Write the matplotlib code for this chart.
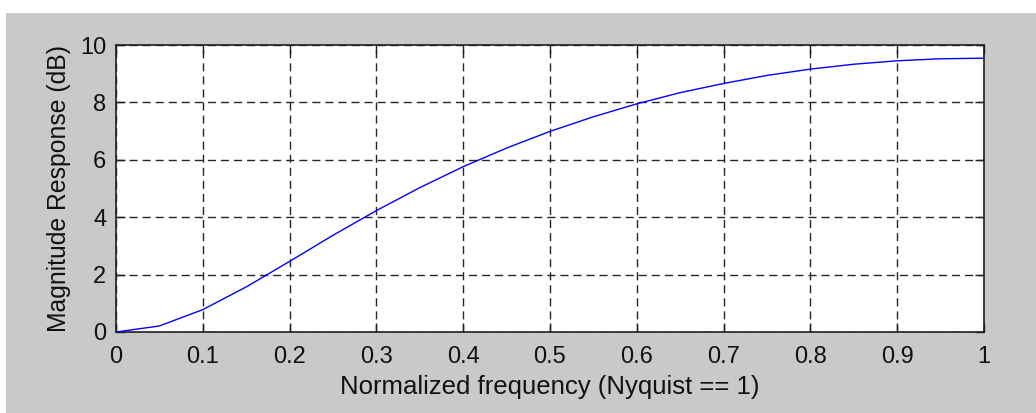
import matplotlib
matplotlib.use("Agg")
import matplotlib.pyplot as plt
from matplotlib.patches import Rectangle

# Data
freq = [0.0, 0.05, 0.1, 0.15, 0.2, 0.25, 0.3, 0.35, 0.4, 0.45, 0.5,
        0.55, 0.6, 0.65, 0.7, 0.75, 0.8, 0.85, 0.9, 0.95, 1.0]
mag_db = [0.0, 0.21, 0.78, 1.57, 2.46, 3.37, 4.23, 5.03, 5.76, 6.41, 6.99,
          7.50, 7.95, 8.34, 8.66, 8.94, 9.16, 9.33, 9.45, 9.52, 9.54]
xticks = [0, 0.1, 0.2, 0.3, 0.4, 0.5, 0.6, 0.7, 0.8, 0.9, 1]
xticklabels = ["0", "0.1", "0.2", "0.3", "0.4", "0.5", "0.6", "0.7", "0.8", "0.9", "1"]
yticks = [0, 2, 4, 6, 8, 10]
yticklabels = ["0", "2", "4", "6", "8", "10"]

plt.rcParams['font.family'] = ['Liberation Sans', 'DejaVu Sans']
plt.rcParams['lines.scale_dashes'] = False

W, H = 1036, 413
fig = plt.figure(figsize=(W / 100, H / 100), dpi=100, facecolor='white')
fig.patches.append(Rectangle((6 / W, 0), 1 - 6 / W, 1 - 13 / H,
                             transform=fig.transFigure, facecolor='#c9c9c9',
                             edgecolor='none', zorder=-10))

ax = fig.add_axes([116 / W, (H - 332) / H, (984 - 116) / W, (332 - 45) / H])
ax.set_facecolor('white')
ax.plot(freq, mag_db, color='#0000ff', linewidth=1.0, zorder=3)

ax.set_xlim(0, 1)
ax.set_ylim(0, 10)
ax.set_xticks(xticks)
ax.set_xticklabels(xticklabels)
ax.set_yticks(yticks)
ax.set_yticklabels(yticklabels)

ax.grid(True, color='#262626', linestyle=(0, (5.8, 3.6)), linewidth=1.0)
ax.tick_params(direction='in', length=6.5, width=1.0, color='#202020',
               top=True, right=True, labelsize=17, labelcolor='#111111')
ax.tick_params(axis='x', pad=10)
ax.tick_params(axis='y', pad=7)
for s in ax.spines.values():
    s.set_color('#202020')
    s.set_linewidth(1.2)

ax.set_xlabel('Normalized frequency (Nyquist == 1)', fontsize=18.5,
              labelpad=5, color='#111111')
ax.set_ylabel('Magnitude Response (dB)', fontsize=17.8, labelpad=6.5,
              color='#111111')

fig.savefig('out.png', dpi=100, facecolor=fig.get_facecolor())
